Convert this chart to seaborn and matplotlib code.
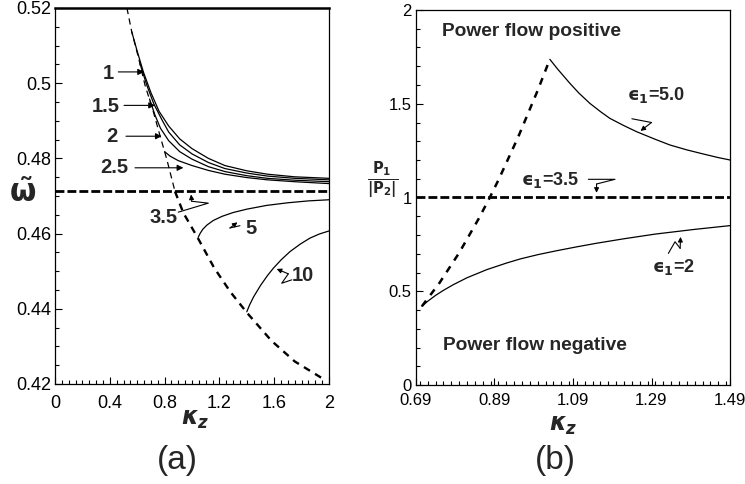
import matplotlib
matplotlib.use("Agg")
import matplotlib.pyplot as plt
from matplotlib.ticker import MultipleLocator
import seaborn as sns

# ---- panel (a): omega vs kappa_z ----
kz_cut_upper = [0.525, 0.56, 0.608, 0.657, 0.718, 0.766, 0.815, 0.876]
om_cut_upper = [0.5200, 0.5137, 0.5070, 0.4995, 0.4924, 0.4861, 0.4799, 0.4712]
kz_cut_lower = [0.876, 0.937, 1.04, 1.16, 1.28, 1.40, 1.58, 1.75, 1.96]
om_cut_lower = [0.4712, 0.4655, 0.4590, 0.4510, 0.4445, 0.4390, 0.4315, 0.4260, 0.4213]
omega_ref = 0.4712

kz_e1 = [0.56, 0.60, 0.645, 0.70, 0.76, 0.83, 0.91, 1.00, 1.12, 1.24, 1.40, 1.55, 1.75, 2.00]
om_e1 = [0.5137, 0.5085, 0.5030, 0.4975, 0.4925, 0.4886, 0.4852, 0.4826, 0.4800, 0.4781,
         0.4767, 0.4758, 0.4751, 0.4747]
kz_e15 = [0.62, 0.67, 0.72, 0.78, 0.83, 0.91, 1.00, 1.12, 1.24, 1.40, 1.55, 1.75, 2.00]
om_e15 = [0.5052, 0.4995, 0.4946, 0.4903, 0.4870, 0.4836, 0.4812, 0.4789, 0.4773, 0.4761,
          0.4753, 0.4747, 0.4743]
kz_e2 = [0.69, 0.73, 0.77, 0.83, 0.91, 1.00, 1.12, 1.24, 1.40, 1.55, 1.75, 2.00]
om_e2 = [0.4958, 0.4915, 0.4880, 0.4847, 0.4818, 0.4798, 0.4778, 0.4765, 0.4754, 0.4747,
         0.4742, 0.4738]
kz_e25 = [0.80, 0.84, 0.90, 1.00, 1.12, 1.24, 1.40, 1.55, 1.75, 2.00]
om_e25 = [0.4818, 0.4806, 0.4794, 0.4781, 0.4768, 0.4758, 0.4749, 0.4743, 0.4738, 0.4733]
kz_e5 = [1.045, 1.06, 1.08, 1.11, 1.156, 1.22, 1.30, 1.40, 1.545, 1.70, 1.85, 2.00]
om_e5 = [0.4590, 0.4601, 0.4612, 0.4623, 0.4635, 0.4646, 0.4656, 0.4665, 0.4675, 0.4682,
         0.4687, 0.4690]
kz_e10 = [1.40, 1.42, 1.45, 1.50, 1.55, 1.594, 1.65, 1.715, 1.79, 1.861, 1.93, 2.00]
om_e10 = [0.4392, 0.4410, 0.4432, 0.4462, 0.4488, 0.4508, 0.4530, 0.4552, 0.4572, 0.4588,
          0.4599, 0.4607]

# ---- panel (b): P1/|P2| vs kappa_z ----
kz_cut_b = [0.705, 0.75, 0.80, 0.85, 0.878, 0.90, 0.95, 1.00, 1.031]
p_cut_b = [0.42, 0.545, 0.705, 0.888, 1.00, 1.093, 1.321, 1.571, 1.737]
p_ref = 1.0
kz_b5 = [1.031, 1.05, 1.082, 1.105, 1.133, 1.16, 1.184, 1.22, 1.252, 1.30, 1.337, 1.38,
         1.422, 1.46, 1.49]
p_b5 = [1.737, 1.687, 1.609, 1.557, 1.502, 1.458, 1.422, 1.383, 1.351, 1.310, 1.280, 1.254,
        1.232, 1.213, 1.200]
kz_b2 = [0.705, 0.72, 0.74, 0.76, 0.785, 0.82, 0.87, 0.92, 0.955, 1.00, 1.048, 1.10, 1.15,
         1.22, 1.30, 1.40, 1.49]
p_b2 = [0.420, 0.447, 0.478, 0.505, 0.535, 0.572, 0.615, 0.650, 0.672, 0.695, 0.716, 0.737,
        0.756, 0.780, 0.805, 0.830, 0.850]

xticks_a = [0, 0.4, 0.8, 1.2, 1.6, 2]
xlabels_a = ["0", "0.4", "0.8", "1.2", "1.6", "2"]
yticks_a = [0.42, 0.44, 0.46, 0.48, 0.50, 0.52]
ylabels_a = ["0.42", "0.44", "0.46", "0.48", "0.5", "0.52"]
xticks_b = [0.69, 0.89, 1.09, 1.29, 1.49]
xlabels_b = ["0.69", "0.89", "1.09", "1.29", "1.49"]
yticks_b = [0, 0.5, 1, 1.5, 2]
ylabels_b = ["0", "0.5", "1", "1.5", "2"]

sns.set_theme(style="ticks")
plt.rcParams['font.family'] = ['Liberation Sans', 'DejaVu Sans']
plt.rcParams['mathtext.fontset'] = 'custom'
plt.rcParams['mathtext.rm'] = 'DejaVu Sans:bold'
plt.rcParams['mathtext.it'] = 'DejaVu Sans:italic:bold'
plt.rcParams['mathtext.bf'] = 'DejaVu Sans:bold'


def curve(ax, x, y, **kw):
    kw.setdefault("linewidth", 0.9)
    sns.lineplot(x=x, y=y, ax=ax, sort=False, estimator=None, color="black", **kw)


def arrow(ax, tail, tip, lw=0.8, ms=9):
    ax.annotate("", xy=tip, xytext=tail,
                arrowprops=dict(arrowstyle="-|>", color="black", lw=lw,
                                mutation_scale=ms, shrinkA=0, shrinkB=0))


def zigzag(ax, xs, ys, tip):
    ax.plot(xs, ys, color="black", lw=0.8)
    arrow(ax, (xs[-1], ys[-1]), tip, ms=7)


def style_axes(ax, xt, xl, yt, yl, xminor, yminor, xpad, ypad, size):
    ax.set_xticks(xt)
    ax.set_xticklabels(xl)
    ax.set_yticks(yt)
    ax.set_yticklabels(yl)
    ax.xaxis.set_minor_locator(MultipleLocator(xminor))
    ax.yaxis.set_minor_locator(MultipleLocator(yminor))
    ax.tick_params(which="both", direction="in", top=False, right=False,
                   color="black", width=0.8)
    ax.tick_params(which="major", length=5, labelsize=size, labelcolor="black")
    ax.tick_params(which="minor", length=3)
    ax.tick_params(axis="x", pad=xpad)
    ax.tick_params(axis="y", pad=ypad)
    for s in ax.spines.values():
        s.set_color("black")
        s.set_linewidth(0.9)
    ax.set_xlabel("")
    ax.set_ylabel("")


fig = plt.figure(figsize=(7.45, 4.84), dpi=100)
ax_a = fig.add_axes([55 / 745, 100 / 484, 274 / 745, 376 / 484])
ax_b = fig.add_axes([416 / 745, 99 / 484, 314 / 745, 375 / 484])

# panel (a)
curve(ax_a, kz_cut_upper, om_cut_upper, linewidth=0.9, linestyle=(0, (5, 3.5)))
curve(ax_a, kz_cut_lower, om_cut_lower, linewidth=1.7, linestyle=(0, (3, 2.5)))
ax_a.axhline(omega_ref, color="black", lw=2.0, linestyle=(0, (3.2, 1.1)))
for kx, oy in [(kz_e1, om_e1), (kz_e15, om_e15), (kz_e2, om_e2), (kz_e25, om_e25),
               (kz_e5, om_e5), (kz_e10, om_e10)]:
    curve(ax_a, kx, oy)

ax_a.set_xlim(0, 2)
ax_a.set_ylim(0.42, 0.52)
style_axes(ax_a, xticks_a, xlabels_a, yticks_a, ylabels_a, 0.05, 0.005, 8, 2.5, 13)
ax_a.spines["top"].set_linewidth(1.8)

lab = dict(fontsize=14.5, fontweight="bold", ha="center", va="center")
ax_a.text(0.387, 0.5027, "1", **lab)
arrow(ax_a, (0.462, 0.5030), (0.650, 0.5030))
ax_a.text(0.372, 0.4937, "1.5", **lab)
arrow(ax_a, (0.504, 0.4941), (0.730, 0.4941))
ax_a.text(0.414, 0.4857, "2", **lab)
arrow(ax_a, (0.518, 0.4859), (0.779, 0.4859))
ax_a.text(0.433, 0.4777, "2.5", **lab)
arrow(ax_a, (0.584, 0.4775), (0.937, 0.4775))
ax_a.text(0.790, 0.4643, "3.5", **lab)
zigzag(ax_a, [0.900, 1.119, 0.998], [0.4657, 0.4681, 0.4686], (0.993, 0.4704))
ax_a.text(1.428, 0.4613, "5", **lab)
zigzag(ax_a, [1.350, 1.277], [0.4621, 0.4615], (1.332, 0.4630))
ax_a.text(1.808, 0.4488, "10", **lab)
zigzag(ax_a, [1.728, 1.655, 1.703], [0.4477, 0.4468, 0.4493], (1.618, 0.4506))

ax_a.text(-0.117, 0.505, r"$\tilde{\mathrm{\omega}}$", transform=ax_a.transAxes,
          fontsize=22, ha="center", va="center")

# panel (b)
curve(ax_b, kz_cut_b, p_cut_b, linewidth=1.8, linestyle=(0, (2.8, 2.8)))
ax_b.axhline(p_ref, color="black", lw=2.0, linestyle=(0, (3.2, 1.1)))
curve(ax_b, kz_b5, p_b5)
curve(ax_b, kz_b2, p_b2)

ax_b.set_xlim(0.69, 1.49)
ax_b.set_ylim(0, 2)
style_axes(ax_b, xticks_b, xlabels_b, yticks_b, ylabels_b, 0.02, 0.1, 6, 3, 12)

ax_b.text(0.985, 1.883, "Power flow positive", fontsize=13.8, fontweight="bold",
          ha="center", va="center")
ax_b.text(0.993, 0.213, "Power flow negative", fontsize=13.8, fontweight="bold",
          ha="center", va="center")
eps = dict(fontsize=13, fontweight="bold", ha="center", va="center")
ax_b.text(1.301, 1.547, "$\\mathrm{\u03f5_1}$=5.0", **eps)
zigzag(ax_b, [1.240, 1.290], [1.420, 1.400], (1.262, 1.355))
ax_b.text(1.031, 1.093, "$\\mathrm{\u03f5_1}$=3.5", **eps)
zigzag(ax_b, [1.129, 1.197, 1.150], [1.097, 1.097, 1.072], (1.150, 1.025))
ax_b.text(1.345, 0.631, "$\\mathrm{\u03f5_1}$=2", **eps)
zigzag(ax_b, [1.333, 1.350, 1.363], [0.702, 0.764, 0.729], (1.364, 0.790))

ax_b.text(-0.107, 0.545, r"$\frac{\mathbf{P_1}}{|\mathbf{P_2}|}$", transform=ax_b.transAxes,
          fontsize=15, ha="center", va="center")

# axis titles and panel tags
fig.text(195 / 745, 1 - 420 / 484, r"$\kappa_z$", fontsize=17, ha="center", va="center")
fig.text(563 / 745, 1 - 426 / 484, r"$\kappa_z$", fontsize=17, ha="center", va="center")
fig.text(177 / 745, 1 - 460 / 484, "(a)", fontsize=24, ha="center", va="center")
fig.text(555 / 745, 1 - 460 / 484, "(b)", fontsize=24, ha="center", va="center")

fig.savefig("out.png", dpi=100, facecolor="white")
